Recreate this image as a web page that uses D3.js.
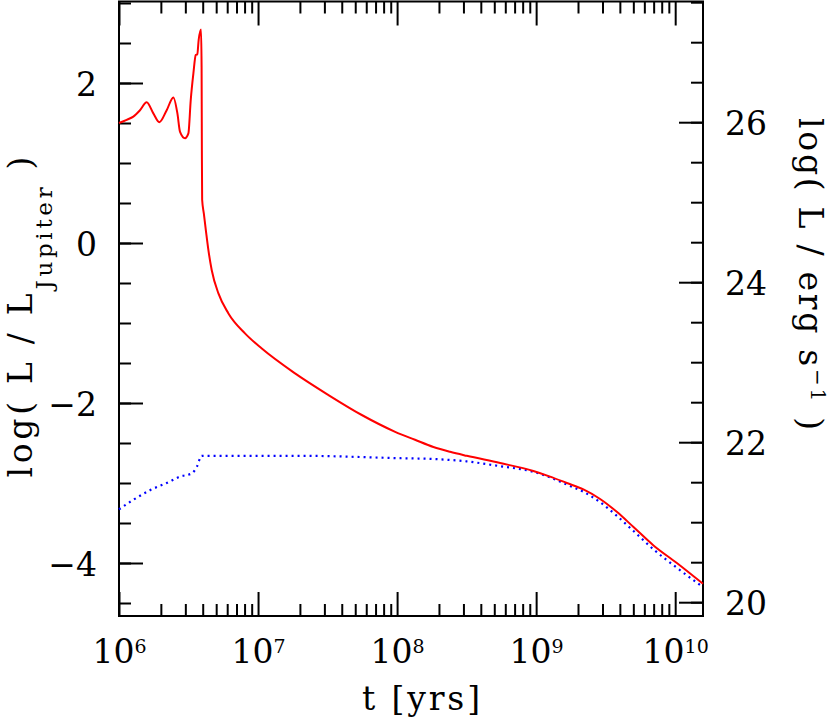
<!DOCTYPE html>
<html>
<head>
<meta charset="utf-8">
<script src="https://cdn.jsdelivr.net/npm/d3@7"></script>
<style>
  body { margin: 0; background: #fff; }
  text { font-family: "DejaVu Serif", serif; fill: #000; }
</style>
</head>
<body>
<div id="chart"></div>
<script>
// red solid: total luminosity, log t [yr] vs log(L/LJup)
var red_logt = [6.0, 6.055, 6.103, 6.151, 6.199, 6.247, 6.29, 6.343, 6.391, 6.42, 6.439, 6.475, 6.499, 6.516,
  6.535, 6.552, 6.563, 6.573, 6.59, 6.594, 6.596, 6.598, 6.61, 6.626, 6.643, 6.667, 6.715, 6.787, 6.906,
  7.027, 7.266, 7.506, 7.746, 7.986, 8.129, 8.261, 8.381, 8.501, 8.741, 8.98, 9.1, 9.221, 9.34, 9.46, 9.58, 9.70,
  9.844, 10.012, 10.2];
var red_val = [1.50, 1.54, 1.58, 1.66, 1.76, 1.62, 1.51, 1.66, 1.82, 1.62, 1.39, 1.31, 1.37, 1.79,
  2.12, 2.35, 2.36, 2.54, 2.67, 2.20, 1.16, 0.54, 0.37, 0.14, -0.09, -0.34, -0.63, -0.88, -1.13,
  -1.32, -1.63, -1.90, -2.15, -2.36, -2.46, -2.55, -2.61, -2.66, -2.75, -2.85, -2.92, -3.00, -3.08, -3.20, -3.36, -3.55,
  -3.78, -4.00, -4.26];

// blue dotted
var blue_logt = [6.0, 6.103, 6.223, 6.343, 6.439, 6.523, 6.559, 6.595, 7.302, 8.022, 8.261, 8.501, 8.741,
  8.98, 9.1, 9.221, 9.34, 9.46, 9.58, 9.70, 9.844, 10.012, 10.2];
var blue_val = [-3.33, -3.21, -3.09, -3.00, -2.92, -2.88, -2.80, -2.66, -2.66, -2.69, -2.70, -2.73, -2.79,
  -2.86, -2.93, -3.02, -3.11, -3.24, -3.41, -3.60, -3.83, -4.06, -4.30];

var x_major = [1e6, 1e7, 1e8, 1e9, 1e10];
var y_major = [-4, -2, 0, 2];
var yr_major = [20, 22, 24, 26];
var log_ljup = 24.49;  // log L_Jupiter in erg/s

var W = 830, H = 718;
var margin = {top: 1.5, right: 703, bottom: 616, left: 119};

var svg = d3.select("#chart").append("svg")
  .attr("width", W)
  .attr("height", H);

var x = d3.scaleLog()
  .domain([1e6, Math.pow(10, 10.2)])
  .range([margin.left, margin.right]);

var y = d3.scaleLinear()
  .domain([-4.6625, 3.01875])
  .range([margin.bottom, margin.top]);

var yr = d3.scaleLinear()
  .domain([-4.6625 + log_ljup, 3.01875 + log_ljup])
  .range([margin.bottom, margin.top]);

var x_minor = [];
for (var d = 6; d <= 10; d++) {
  for (var k = 2; k <= 9; k++) {
    var v = k * Math.pow(10, d);
    if (v < x.domain()[1]) x_minor.push(v);
  }
}
var y_minor = d3.range(-4.5, 3.01, 0.5);
var yr_minor = d3.range(20, 27.51, 0.5);

function minus(d) { return d < 0 ? "\u2212" + Math.abs(d) : String(d); }

function style_axis(g) {
  g.select(".domain").remove();
  g.selectAll(".tick line").attr("stroke", "#000").attr("stroke-width", 2);
  g.attr("font-family", null).attr("font-size", null);
  g.selectAll("text").style("font-size", "33px").attr("fill", "#000");
}

// minor ticks
svg.append("g").attr("transform", "translate(0," + margin.bottom + ")")
  .call(d3.axisBottom(x).tickValues(x_minor).tickSizeInner(-12).tickSizeOuter(0).tickFormat(""))
  .call(style_axis);
svg.append("g").attr("transform", "translate(0," + margin.top + ")")
  .call(d3.axisTop(x).tickValues(x_minor).tickSizeInner(-12).tickSizeOuter(0).tickFormat(""))
  .call(style_axis);
svg.append("g").attr("transform", "translate(" + margin.left + ",0)")
  .call(d3.axisLeft(y).tickValues(y_minor).tickSizeInner(-12).tickSizeOuter(0).tickFormat(""))
  .call(style_axis);
svg.append("g").attr("transform", "translate(" + margin.right + ",0)")
  .call(d3.axisRight(yr).tickValues(yr_minor).tickSizeInner(-12).tickSizeOuter(0).tickFormat(""))
  .call(style_axis);

// major ticks + labels
var xb = svg.append("g").attr("transform", "translate(0," + margin.bottom + ")")
  .call(d3.axisBottom(x).tickValues(x_major).tickSizeInner(-24).tickSizeOuter(0).tickPadding(0))
  .call(style_axis);
xb.selectAll(".tick text").each(function(d) {
  var t = d3.select(this).text("").attr("y", 47).attr("dy", null);
  t.append("tspan").text("10");
  t.append("tspan").attr("dy", -10).style("font-size", "19px").text(Math.round(Math.log10(d)));
});
svg.append("g").attr("transform", "translate(0," + margin.top + ")")
  .call(d3.axisTop(x).tickValues(x_major).tickSizeInner(-24).tickSizeOuter(0).tickFormat(""))
  .call(style_axis);
svg.append("g").attr("transform", "translate(" + margin.left + ",0)")
  .call(d3.axisLeft(y).tickValues(y_major).tickSizeInner(-24).tickSizeOuter(0).tickPadding(22).tickFormat(minus))
  .call(style_axis)
  .selectAll(".tick text").attr("dy", "0.38em");
svg.append("g").attr("transform", "translate(" + margin.right + ",0)")
  .call(d3.axisRight(yr).tickValues(yr_major).tickSizeInner(-24).tickSizeOuter(0).tickPadding(22).tickFormat(minus))
  .call(style_axis)
  .selectAll(".tick text").attr("dy", "0.36em");

// frame
svg.append("rect")
  .attr("x", margin.left).attr("y", margin.top)
  .attr("width", margin.right - margin.left).attr("height", margin.bottom - margin.top)
  .attr("fill", "none").attr("stroke", "#000").attr("stroke-width", 2);

// curves
var line = d3.line()
  .x(function(d) { return x(Math.pow(10, d[0])); })
  .y(function(d) { return y(d[1]); })
  .curve(d3.curveMonotoneX);

var red_pts = d3.zip(red_logt, red_val);
var blue_pts = d3.zip(blue_logt, blue_val);

svg.append("path")
  .datum(blue_pts)
  .attr("d", line)
  .attr("fill", "none")
  .attr("stroke", "#0000ff")
  .attr("stroke-width", 2.2)
  .attr("stroke-dasharray", "2,4");

svg.append("path")
  .datum(red_pts)
  .attr("d", line)
  .attr("fill", "none")
  .attr("stroke", "#ff0000")
  .attr("stroke-width", 2);

// titles
svg.append("text")
  .attr("x", 421).attr("y", 710)
  .attr("text-anchor", "middle")
  .attr("textLength", 118).attr("lengthAdjust", "spacing")
  .style("font-size", "33px")
  .text("t [yrs]");

var lt = svg.append("text")
  .attr("transform", "translate(32,317) rotate(-90)")
  .attr("text-anchor", "middle")
  .attr("textLength", 321).attr("lengthAdjust", "spacing")
  .style("font-size", "33px");
lt.append("tspan").text("log( L / L");
lt.append("tspan").attr("dy", 20).style("font-size", "23px").text("Jupiter");
lt.append("tspan").attr("dy", -20).text(" )");

var rt = svg.append("text")
  .attr("transform", "translate(799,274) rotate(90)")
  .attr("text-anchor", "middle")
  .attr("textLength", 312).attr("lengthAdjust", "spacing")
  .style("font-size", "33px");
rt.append("tspan").text("log( L / erg s");
rt.append("tspan").attr("dy", -12).style("font-size", "20px").text("\u22121");
rt.append("tspan").attr("dy", 12).text(" )");
</script>
</body>
</html>
